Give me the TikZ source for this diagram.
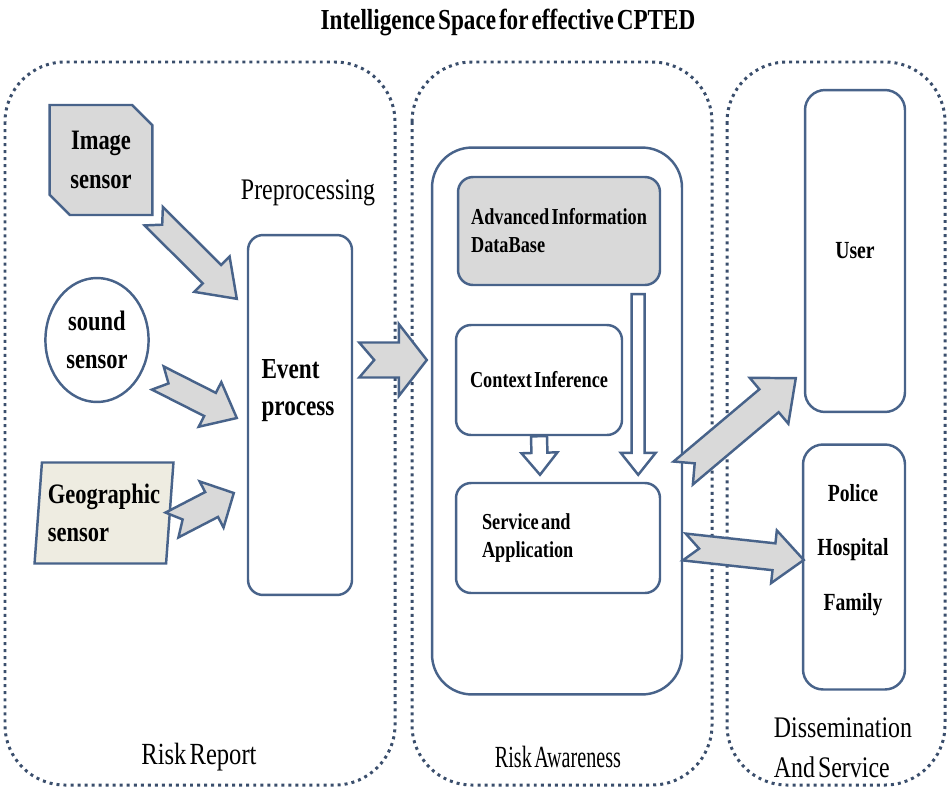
\documentclass[tikz,border=0pt]{standalone}
\usepackage{fontspec}
\setmainfont{Liberation Serif}[FakeStretch=0.8, WordSpace=0.5]
\usetikzlibrary{calc,shapes.geometric,shapes.misc}

\definecolor{boxblue}{RGB}{72,99,138}
\definecolor{dotblue}{RGB}{58,78,108}
\definecolor{boxgray}{RGB}{217,217,217}
\definecolor{boxbeige}{RGB}{238,236,225}

% fat block arrow: (tail)(tip)(half body:half wing:head length:notch)
\def\fatarrow[#1](#2)(#3)(#4:#5:#6:#7){%
  \coordinate (fa-h) at ($(#3)!#6!(#2)$);
  \coordinate (fa-n) at ($(#2)!#7!(#3)$);
  \draw[#1] ($(#2)!#4!90:(#3)$) -- ($(fa-h)!#4!-90:(#2)$) -- ($(fa-h)!#5!-90:(#2)$) -- (#3)
    -- ($(fa-h)!#5!90:(#2)$) -- ($(fa-h)!#4!90:(#2)$) -- ($(#2)!#4!-90:(#3)$) -- (fa-n) -- cycle;}

\tikzset{
  panel/.style={draw=dotblue, line width=1.7pt, dash pattern=on 1.7pt off 2.3pt, rounded corners=1.2cm},
  sensorbox/.style={draw=boxblue, line width=1.4pt, align=center, font=\bfseries\fontsize{16}{22}\selectfont},
  roundbox/.style={draw=boxblue, line width=1.4pt, rounded corners=0.3cm, fill=white},
  infobox/.style={roundbox, font=\bfseries\fontsize{13}{16}\selectfont},
  grayarrow/.style={draw=boxblue, line width=1.4pt, fill=boxgray, line join=miter},
  hollowarrow/.style={draw=boxblue, line width=1.4pt, fill=white, line join=miter},
  paneltext/.style={align=left},
}

\begin{document}
\begin{tikzpicture}[x=0.02cm, y=-0.02cm]
  \useasboundingbox (0,0) rectangle (949,791);

  %%%%% panels %%%%%
  \draw[panel] (5,62) rectangle (395,785);
  \draw[panel] (412,62) rectangle (712,785);
  \draw[panel] (727,62) rectangle (945,785);

  \node[font=\bfseries\fontsize{16.5}{19}\selectfont] (title) at (508,22) {Intelligence Space for effective CPTED};
  \node[paneltext, font=\fontsize{17.5}{21}\selectfont] (report) at (199,757) {Risk Report};
  \node[paneltext, font=\fontsize{17.5}{21}\selectfont] (aware) at (558,757) {\scalebox{0.82}[1]{Risk Awareness}};
  \node[paneltext, font=\fontsize{17}{22.5}\selectfont] (dissem) at (843,748) {Dissemination\\And Service};

  %%%%% risk report %%%%%
  \node[sensorbox, chamfered rectangle, chamfered rectangle corners={north east,south west},
        chamfered rectangle xsep=0.3cm, fill=boxgray, minimum width=1.96cm, minimum height=2.2cm]
        (img) at (101,160) {Image\\sensor};
  \node[sensorbox, ellipse, minimum width=1.88cm, minimum height=2.48cm] (sound) at (97,340) {sound\\sensor};
  \node[sensorbox, trapezium, trapezium left angle=84, trapezium right angle=96, trapezium stretches,
        fill=boxbeige, align=left, minimum width=2.7cm, minimum height=2.02cm]
        (geo) at (104,513) {Geographic\\sensor};

  \node[font=\fontsize{17}{20}\selectfont] (prep) at (308,193) {Preprocessing};
  \node[roundbox, minimum width=2.08cm, minimum height=7.2cm] (event) at (300,415) {};
  \node[font=\bfseries\fontsize{16.5}{21}\selectfont, align=left] (eventtxt) at (298,391) {Event\\process};

  %%%%% risk awareness %%%%%
  \node[roundbox, rounded corners=0.8cm, minimum width=5cm, minimum height=10.94cm] (inner) at (557,421) {};
  \node[infobox, fill=boxgray, minimum width=4.04cm, minimum height=2.16cm, align=left]
        (db) at (559,231) {Advanced Information\\DataBase};
  \node[infobox, minimum width=3.32cm, minimum height=2.2cm] (ctx) at (539,380) {Context Inference};
  \node[infobox, minimum width=4.08cm, minimum height=2.2cm, text width=3.04cm, align=flush left]
        (svc) at (558,538) {Service and\\Application};

  %%%%% dissemination %%%%%
  \node[roundbox, rounded corners=0.4cm, minimum width=2cm, minimum height=6.44cm,
        font=\bfseries\fontsize{14}{17}\selectfont] (user) at (855,251) {User};
  \node[roundbox, rounded corners=0.4cm, minimum width=2.04cm, minimum height=4.9cm] (police) at (854,567) {};
  \node[font=\bfseries\fontsize{14}{31}\selectfont, align=center] (groups) at (853,550) {Police\\Hospital\\Family};

  %%%%% arrows %%%%%
  \coordinate (a1s) at (img.south east);
  \coordinate (a1e) at ($(event.north west)+(-10,65)$);
  \coordinate (a2s) at ($(sound.east)+(8,38)$);
  \coordinate (a2e) at ($(event.west)+(-10,3)$);
  \coordinate (a3s) at ($(geo.east)+(1,12)$);
  \coordinate (a3e) at ($(event.west)+(-13,78)$);
  \coordinate (a4s) at ($(event.east)+(6,-55)$);
  \coordinate (a4e) at ($(inner.west)+(-4,-61)$);
  \coordinate (a5e) at ($(ctx.south |- svc.north)+(1,-7)$);
  \coordinate (a6s) at ($(db.south east)+(-23,8)$);
  \coordinate (a6e) at ($(db.south east |- svc.north)+(-23,-7)$);
  \coordinate (a7s) at ($(inner.east)+(0,52)$);
  \coordinate (a7e) at ($(user.south west)+(-8,-35)$);
  \coordinate (a8s) at ($(inner.east)+(1,126)$);
  \coordinate (a8e) at ($(police.west)+(2,-7)$);

  \fatarrow[grayarrow](a1s)(a1e)(0.26cm:0.5cm:0.7cm:0.24cm)
  \fatarrow[grayarrow](a2s)(a2e)(0.26cm:0.5cm:0.6cm:0.24cm)
  \fatarrow[grayarrow](a3s)(a3e)(0.28cm:0.52cm:0.5cm:0.24cm)
  \fatarrow[grayarrow](a4s)(a4e)(0.35cm:0.72cm:0.56cm:0.3cm)
  \fatarrow[hollowarrow](ctx.south)(a5e)(0.16cm:0.36cm:0.44cm:0cm)
  \fatarrow[hollowarrow](a6s)(a6e)(0.13cm:0.35cm:0.44cm:0cm)
  \fatarrow[grayarrow](a7s)(a7e)(0.3cm:0.6cm:0.7cm:0.3cm)
  \fatarrow[grayarrow](a8s)(a8e)(0.27cm:0.53cm:0.6cm:0.3cm)
\end{tikzpicture}
\end{document}
